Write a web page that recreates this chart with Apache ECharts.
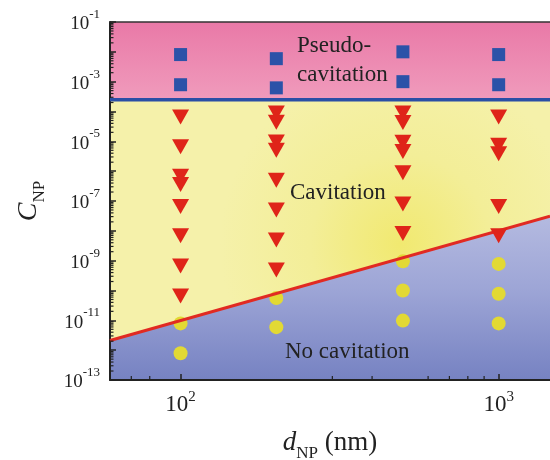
<!DOCTYPE html>
<html><head><meta charset="utf-8">
<script src="https://cdn.jsdelivr.net/npm/echarts@6/dist/echarts.min.js"></script>
<style>html,body{margin:0;padding:0;background:#fff}#c{width:550px;height:460px}</style>
</head><body><div id="c"></div>
<script>
// ---------- data ----------
const xRange = [60, 1450];
const yRange = [1e-13, 1e-1];
const xTickExps = [2, 3];
const yTickExps = [-1, -3, -5, -7, -9, -11, -13];
const xMinorTicks = [70, 80, 300, 400, 600, 700, 800, 900];

const pseudoD = [100, 100, 200, 200, 500, 500, 1000, 1000];
const pseudoC = [8.1e-3, 7.9e-4, 5.9e-3, 6.2e-4, 1.0e-2, 1.0e-3, 8.1e-3, 7.9e-4];

const cavD = [100,100,100,100,100,100,100,100,
              200,200,200,200,200,200,200,200,
              500,500,500,500,500,500,500,
              1000,1000,1000,1000,1000];
const cavC = [6.6e-5,6.6e-6,6.8e-7,3.6e-7,6.6e-8,6.8e-9,6.6e-10,6.5e-11,
              8.9e-5,4.4e-5,9.5e-6,5.0e-6,5.0e-7,5.0e-8,4.9e-9,4.9e-10,
              8.9e-5,4.3e-5,9.3e-6,4.6e-6,8.9e-7,7.9e-8,8.1e-9,
              6.5e-5,7.4e-6,3.8e-6,6.6e-8,6.9e-9];

const noCavD = [100,100,200,200,500,500,500,1000,1000,1000];
const noCavC = [7.9e-12,7.9e-13,5.6e-11,5.9e-12,9.5e-10,1.0e-10,9.8e-12,7.8e-10,7.8e-11,7.9e-12];

const pseudoLineD = [60, 1450];
const pseudoLineC = [2.5e-4, 2.5e-4];
const cavLineD = [60, 1450];
const cavLineC = [2.1e-12, 3.1e-8];

const regionLabels = ['Pseudo-\ncavitation', 'Cavitation', 'No cavitation'];

// ---------- chart ----------
const zip = (a, b) => a.map((v, i) => [v, b[i]]);
const FONT = 'Liberation Serif';
const G = echarts.graphic;

// log minor ticks on y (axis decoration)
const yMinor = [];
for (let k = -13; k < -1; k++) for (let m = 2; m <= 9; m++) yMinor.push(m * Math.pow(10, k));

const chart = echarts.init(document.getElementById('c'), null, {renderer: 'canvas'});

const mkRich = (b, s) => ({
  b: {fontSize: b, fontFamily: FONT, color: '#222', lineHeight: 24, verticalAlign: 'bottom'},
  s: {fontSize: s, fontFamily: FONT, color: '#222', lineHeight: 24, verticalAlign: 'top', padding: [-2, 0, 0, 0]}
});

chart.setOption({
  animation: false,
  grid: {left: 110, right: 0, top: 22, bottom: 80, containLabel: false, outerBoundsMode: 'none'},
  xAxis: [{
    type: 'log', logBase: 10, min: xRange[0], max: xRange[1],
    axisLine: {show: true, lineStyle: {color: '#222', width: 2}},
    axisTick: {show: true, inside: true, length: 6, lineStyle: {color: '#222', width: 1.5}},
    splitLine: {show: false},
    axisLabel: {
      margin: 12, showMinLabel: false, showMaxLabel: false, fontSize: 19, fontFamily: FONT,
      hideOverlap: false,
      formatter: v => {
        const e = Math.round(Math.log10(v));
        if (Math.abs(Math.log10(v) - e) > 1e-6 || xTickExps.indexOf(e) < 0) return '';
        return '{b|10}{s|' + e + '}';
      },
      rich: mkRich(23, 15)
    },
    name: '{d|d}{n|NP}{t| (nm)}',
    nameLocation: 'middle', nameGap: 48,
    nameTextStyle: {
      rich: {
        d: {fontSize: 27, fontFamily: FONT, fontStyle: 'italic', color: '#222', lineHeight: 30},
        n: {fontSize: 17, fontFamily: FONT, color: '#222', lineHeight: 30, verticalAlign: 'bottom', padding: [0,0,-4,0]},
        t: {fontSize: 27, fontFamily: FONT, color: '#222', lineHeight: 30}
      }
    }
  }, {
    type: 'log', logBase: 10, min: xRange[0], max: xRange[1], position: 'top',
    axisLine: {show: true, lineStyle: {color: '#333', width: 1.5}},
    axisTick: {show: false}, axisLabel: {show: false}, splitLine: {show: false}
  }],
  yAxis: {
    type: 'log', logBase: 10, min: yRange[0], max: yRange[1],
    interval: 1,
    axisLine: {show: true, lineStyle: {color: '#222', width: 2}},
    axisTick: {show: true, inside: true, length: 6, lineStyle: {color: '#222', width: 1.5}},
    splitLine: {show: false},
    axisLabel: {
      margin: 10, fontSize: 19, fontFamily: FONT,
      formatter: v => {
        const e = Math.round(Math.log10(v));
        if (yTickExps.indexOf(e) < 0) return '';
        return '{b|10}{s|' + e + '}';
      },
      rich: mkRich(19, 13)
    },
    name: '{c|C}{n|NP}',
    nameLocation: 'middle', nameGap: 66,
    nameTextStyle: {
      rich: {
        c: {fontSize: 28, fontFamily: FONT, fontStyle: 'italic', color: '#222', lineHeight: 30},
        n: {fontSize: 17, fontFamily: FONT, color: '#222', lineHeight: 30, verticalAlign: 'bottom', padding: [0,0,-4,0]}
      }
    }
  },
  series: [
    {
      type: 'custom', coordinateSystem: 'cartesian2d', silent: true, z: 0, clip: true,
      data: [[xRange[0], yRange[0]]],
      renderItem: (params, api) => {
        const p = (x, y) => api.coord([x, y]);
        const pink = [p(xRange[0], yRange[1]), p(xRange[1], yRange[1]), p(xRange[1], pseudoLineC[1]), p(xRange[0], pseudoLineC[0])];
        const yellow = [p(xRange[0], pseudoLineC[0]), p(xRange[1], pseudoLineC[1]), p(cavLineD[1], cavLineC[1]), p(cavLineD[0], cavLineC[0])];
        const blue = [p(cavLineD[0], cavLineC[0]), p(cavLineD[1], cavLineC[1]), p(xRange[1], yRange[0]), p(xRange[0], yRange[0])];
        return {type: 'group', children: [
          {type: 'polygon', shape: {points: pink}, style: {fill: new G.LinearGradient(0,0,0,1,[{offset:0,color:'#E979A7'},{offset:1,color:'#F09BBC'}])}},
          {type: 'polygon', shape: {points: yellow}, style: {fill: new G.RadialGradient(0.66,0.6,0.75,[{offset:0,color:'#F1E970'},{offset:0.5,color:'#F3EE98'},{offset:1,color:'#F5F1AA'}])}},
          {type: 'polygon', shape: {points: blue}, style: {fill: new G.LinearGradient(0,0,0,1,[{offset:0,color:'#B4BAE0'},{offset:0.45,color:'#9DA5D6'},{offset:1,color:'#7682C2'}])}}
        ]};
      }
    },
    {
      type: 'custom', coordinateSystem: 'cartesian2d', silent: true, z: 5, clip: false,
      data: [[xRange[0], yRange[0]]],
      renderItem: (params, api) => {
        const ch = [];
        yMinor.forEach(v => {
          const q = api.coord([xRange[0], v]);
          ch.push({type: 'line', shape: {x1: q[0], y1: q[1], x2: q[0] + 3.5, y2: q[1]}, style: {stroke: '#222', lineWidth: 1.2}});
        });
        xMinorTicks.forEach(v => {
          const q = api.coord([v, yRange[0]]);
          ch.push({type: 'line', shape: {x1: q[0], y1: q[1], x2: q[0], y2: q[1] - 4}, style: {stroke: '#222', lineWidth: 1.2}});
        });
        return {type: 'group', children: ch};
      }
    },
    {
      type: 'line', data: zip(pseudoLineD, pseudoLineC), symbol: 'none', z: 3,
      lineStyle: {color: '#2A4FA5', width: 3.5}
    },
    {
      type: 'line', data: zip(cavLineD, cavLineC), symbol: 'none', z: 3,
      lineStyle: {color: '#E12A22', width: 3}
    },
    {
      type: 'scatter', data: zip(pseudoD, pseudoC), symbol: 'rect', symbolSize: 13, z: 4,
      itemStyle: {color: '#2B52A8', opacity: 1}
    },
    {
      type: 'scatter', data: zip(cavD, cavC), symbol: 'triangle', symbolRotate: 180, symbolSize: [17, 15], z: 4,
      itemStyle: {color: '#DF2419', opacity: 1}
    },
    {
      type: 'scatter', data: zip(noCavD, noCavC), symbol: 'circle', symbolSize: 14, z: 2,
      itemStyle: {color: '#E2D934', opacity: 1}
    }
  ],
  graphic: [
    {type: 'text', left: 297, top: 31, z: 10, style: {text: regionLabels[0], font: '23px "Liberation Serif"', fill: '#222', lineHeight: 29}},
    {type: 'text', left: 290, top: 181, z: 10, style: {text: regionLabels[1], font: '23px "Liberation Serif"', fill: '#222'}},
    {type: 'text', left: 285, top: 340, z: 10, style: {text: regionLabels[2], font: '23px "Liberation Serif"', fill: '#222'}}
  ]
});
</script>
</body></html>
